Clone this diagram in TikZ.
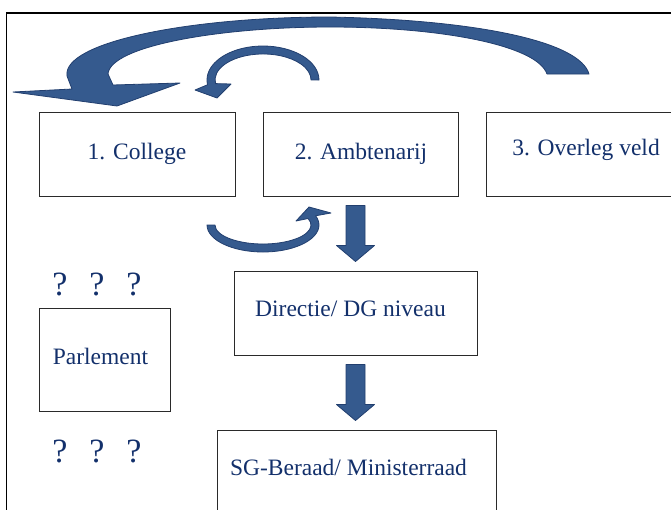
\documentclass[tikz,border=0pt]{standalone}
\usepackage{fontspec}
\setmainfont{Liberation Serif}
\usetikzlibrary{calc}
\definecolor{ink}{HTML}{13306B}
\definecolor{arrowfill}{HTML}{355A8E}
\definecolor{arrowline}{HTML}{223F6F}
\definecolor{frame}{HTML}{2A2A2A}
\tikzset{
  box/.style={draw=frame, line width=1pt, inner sep=0pt},
  txt/.style={text=ink, font=\fontsize{23.5}{28}\selectfont, inner sep=0pt},
  qmark/.style={txt, font=\fontsize{34}{40}\selectfont},
  curvedarrow/.style={fill=arrowfill, draw=arrowline, line width=0.8pt, line join=round},
  blockarrow/.style={curvedarrow},
}
% block arrow pointing down, from #1 (top of shaft) to #2 (tip)
\newcommand{\blockdown}[2]{%
  \path[blockarrow] let \p1=(#1), \p2=(#2) in
    (\x1-9.5pt,\y1) -- (\x1+9.5pt,\y1) -- (\x1+9.5pt,\y2+16pt) -- (\x1+19pt,\y2+16pt)
    -- (\x1,\y2) -- (\x1-19pt,\y2+16pt) -- (\x1-9.5pt,\y2+16pt) -- cycle;}

\begin{document}
\begin{tikzpicture}[x=1pt, y=-1pt]
\useasboundingbox (0,0) rectangle (671,509);
% --- outer frame (runs off the page at right and bottom)
\draw[draw=black, line width=1.8pt] (6.5,13) rectangle (700,540);
% --- top row
\node[box, minimum width=196pt, minimum height=84pt] (col) at (137,154) {};
\node[box, minimum width=195pt, minimum height=84pt] (amb) at (360.5,154) {};
\node[box, minimum width=196pt, minimum height=84pt] (ovl) at (584,154) {};
\node[txt, anchor=base] (colt) at (137,159) {1. College};
\node[txt, anchor=base] (ambt) at (361,159) {2. Ambtenarij};
\node[txt, anchor=base] (ovlt) at (586,155) {3. Overleg veld};
% --- lower boxes
\node[box, minimum width=243pt, minimum height=84pt] (dir) at (355.5,313) {};
\node[box, minimum width=131pt, minimum height=103pt] (parl) at (104.5,360) {};
\node[box, minimum width=279pt, minimum height=84pt] (sg) at (356.5,472) {};
\node[txt, anchor=base] (dirt) at (350.5,316) {Directie/ DG niveau};
\node[txt, anchor=base] (parlt) at (100.5,364) {Parlement};
\node[txt, anchor=base] (sgt) at (348.5,475) {SG-Beraad/ Ministerraad};
\foreach \qx [count=\i] in {60,97,134} {
  \node[qmark, anchor=base] (qtop\i) at (\qx,295) {?};
  \node[qmark, anchor=base] (qbot\i) at (\qx,462) {?};
}
% --- block arrows down
\coordinate (aonetop) at ($(dir.north |- amb.south)+(0,9)$);
\coordinate (aonetip) at ($(dir.north)+(0,-9)$);
\coordinate (atwotop) at ($(dir.south)+(0,9)$);
\coordinate (atwotip) at ($(sg.north)+(0,-9)$);
\blockdown{aonetop}{aonetip}
\blockdown{atwotop}{atwotip}
% --- big curved arrow from overleg veld back to college
\path[curvedarrow] (589,74) .. controls (580,42) and (480,20) .. (330,17)
  .. controls (190,17) and (62,42) .. (67,76) -- (72,89) -- (13,92) -- (117,106)
  -- (180,83) -- (113,85) -- (108,74) .. controls (110,46) and (220,27) .. (330,27)
  .. controls (440,27) and (537,45) .. (547,74) -- cycle;
% --- small loop above ambtenarij
\path[curvedarrow] (319,80) arc[start angle=0, end angle=-188, x radius=56, y radius=34]
  -- (195,90) -- (217,98) -- (231,84) -- (215.5,83.6)
  arc[start angle=-188, end angle=0, x radius=48, y radius=26] -- cycle;
% --- small loop below college / ambtenarij
\path[curvedarrow] (207,225) arc[start angle=180, end angle=-20, x radius=56, y radius=27]
  -- (331,213) -- (309,207) -- (296,221) -- (308.1,218.5)
  arc[start angle=-20, end angle=180, x radius=48, y radius=19] -- cycle;
\end{tikzpicture}
\end{document}
